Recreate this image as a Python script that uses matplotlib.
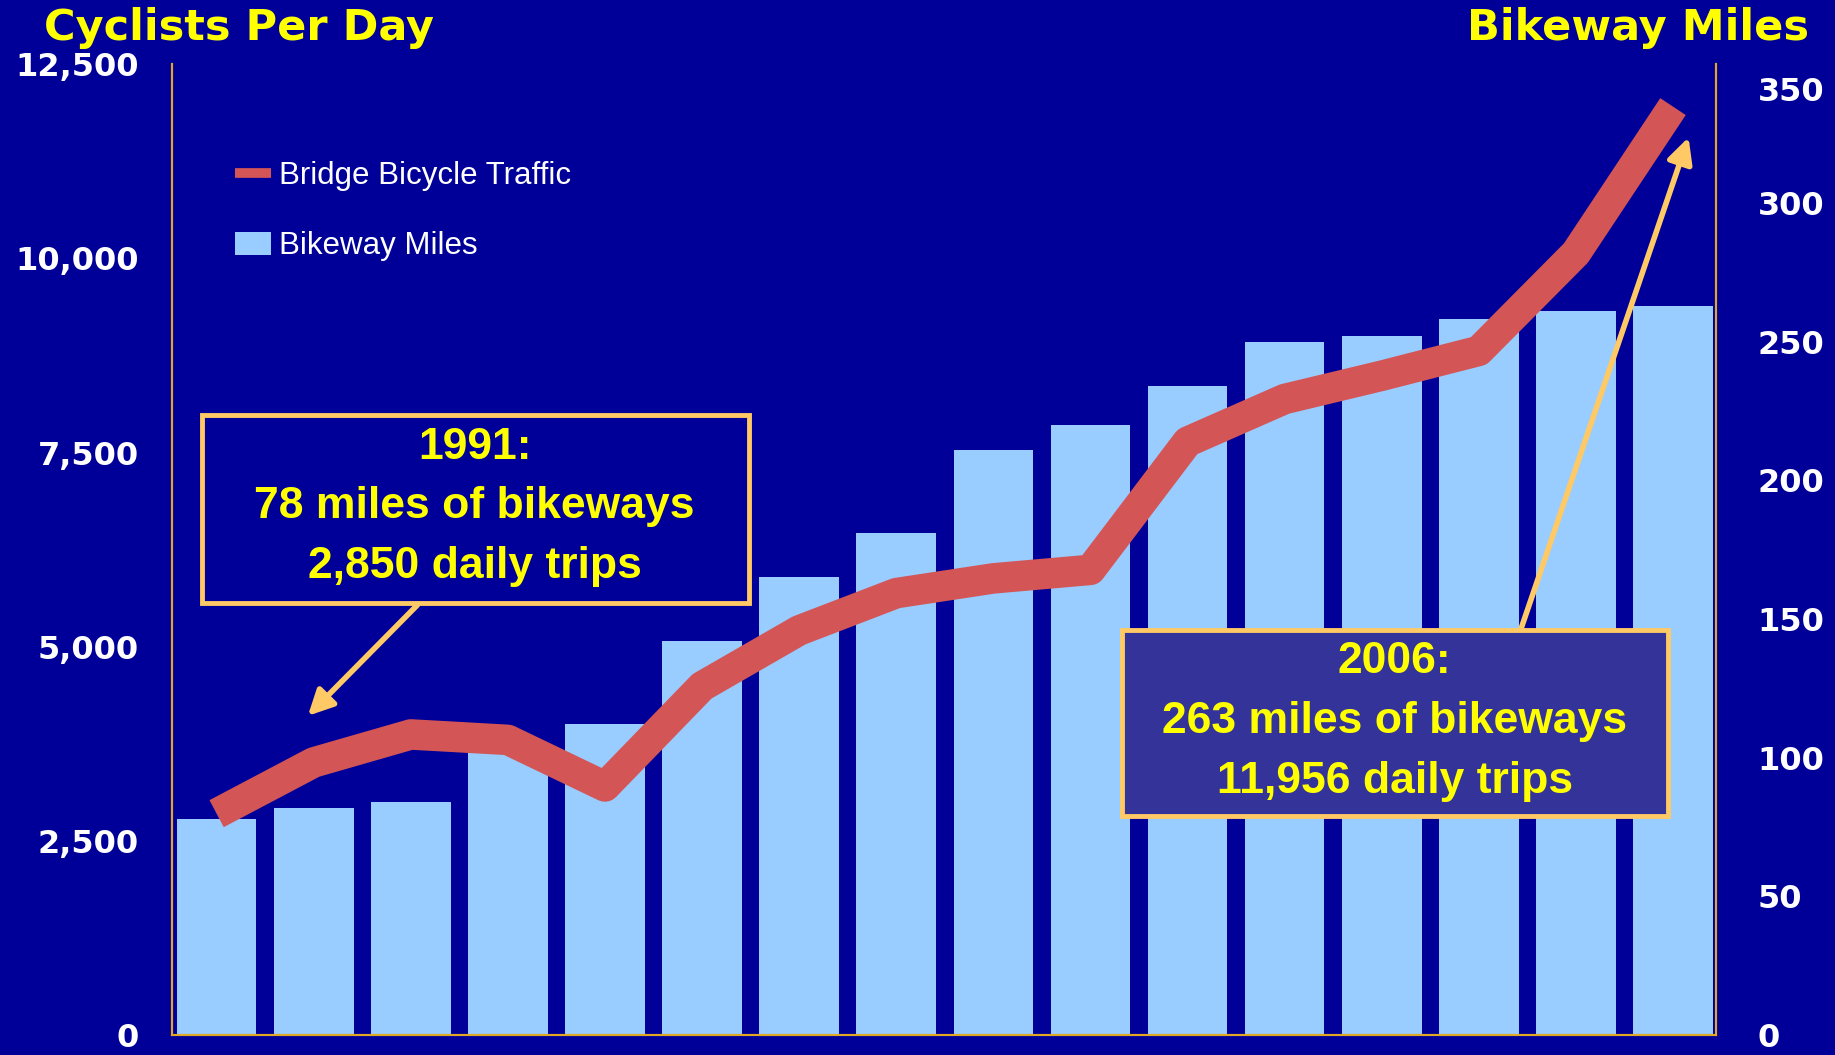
import matplotlib
matplotlib.use("Agg")
import matplotlib.pyplot as plt
from matplotlib.lines import Line2D
from matplotlib.patches import Patch, Rectangle
from matplotlib.transforms import ScaledTranslation

# data (1991 - 2006)
years = list(range(1991, 2007))
bikeway_miles = [78, 82, 84, 104, 112, 142, 165, 181, 211, 220, 234, 250, 252, 258, 261, 263]
bridge_trips = [2850, 3510, 3870, 3800, 3200, 4490, 5210, 5690, 5880, 5990, 7640, 8190, 8490, 8810, 10070, 11956]

left_ticks = [0, 2500, 5000, 7500, 10000, 12500]
left_labels = ['0', '2,500', '5,000', '7,500', '10,000', '12,500']
right_ticks = [0, 50, 100, 150, 200, 250, 300, 350]

# colours
bg = '#000099'
bar_color = '#99CCFF'
line_color = '#D45555'
box_edge = '#FFC966'
yellow = '#FFFF00'
spine_color = '#E0A823'

fig = plt.figure(figsize=(18.35, 10.55), dpi=100, facecolor=bg)
ax = fig.add_axes([0.0937, 0.019, 0.8413, 0.920])
ax2 = ax.twinx()

# bars on the right axis
x = list(range(len(years)))
ax2.bar(x, bikeway_miles, width=0.82, color=bar_color, zorder=1)
ax2.set_ylim(0, 350)
ax2.set_facecolor(bg)

# line on the left axis, drawn above the bars
ax.set_zorder(ax2.get_zorder() + 1)
ax.patch.set_visible(False)
ax.plot(x, bridge_trips, color=line_color, lw=22, solid_joinstyle='round',
        solid_capstyle='butt', zorder=3)
ax.set_ylim(0, 12500)
ax.set_xlim(-0.46, len(years) - 0.56)

# axes styling
for a in (ax, ax2):
    a.spines['top'].set_visible(False)
    for s in ('left', 'right', 'bottom'):
        a.spines[s].set_color(spine_color)
        a.spines[s].set_linewidth(1.5)
    a.set_xticks([])
    a.tick_params(length=0)

ax.set_yticks(left_ticks, left_labels)
ax.tick_params(axis='y', pad=24, labelsize=23, labelcolor='white')
for lbl in ax.get_yticklabels():
    lbl.set_fontweight('bold')
    lbl.set_family('DejaVu Sans')

ax2.set_yticks(right_ticks, [str(t) for t in right_ticks])
ax2.tick_params(axis='y', pad=30, labelsize=23, labelcolor='white')
for lbl in ax2.get_yticklabels():
    lbl.set_fontweight('bold')
    lbl.set_family('DejaVu Sans')

# axis titles
fig.text(0.024, 0.973, 'Cyclists Per Day', color=yellow, fontsize=31,
         fontweight='bold', family='DejaVu Sans', ha='left', va='center')
fig.text(0.986, 0.973, 'Bikeway Miles', color=yellow, fontsize=31,
         fontweight='bold', family='DejaVu Sans', ha='right', va='center')

# legend
handles = [Line2D([0], [0], color=line_color, lw=7, solid_capstyle='butt'),
           Patch(facecolor=bar_color, edgecolor='none')]
leg = ax.legend(handles, ['Bridge Bicycle Traffic', 'Bikeway Miles'],
                loc='upper left', bbox_to_anchor=(0.041, 0.900), frameon=False,
                prop={'family': 'Liberation Sans', 'size': 22.5},
                labelcolor='white', handlelength=1.15, handleheight=0.75,
                handletextpad=0.25, labelspacing=1.27, borderpad=0, borderaxespad=0)

# 1991 callout
ax.add_patch(Rectangle((0.0197, 0.445), 0.354, 0.194, transform=ax.transAxes,
                       facecolor=bg, edgecolor=box_edge, lw=3.5, zorder=5))
ax.text(0.196, 0.544, '1991:\n78 miles of bikeways\n2,850 daily trips',
        transform=ax.transAxes, ha='center', va='center', color=yellow,
        fontsize=32, fontweight='bold', family='Liberation Sans',
        linespacing=1.58, zorder=6)
ax.annotate('', xy=(0.94, 4110), xycoords='data',
            xytext=(0.159, 0.443), textcoords='axes fraction',
            arrowprops=dict(arrowstyle='-|>', color=box_edge, lw=4,
                            mutation_scale=38, shrinkA=0, shrinkB=0), zorder=4)

# 2006 callout
ax.add_patch(Rectangle((0.6156, 0.2256), 0.3534, 0.1918, transform=ax.transAxes,
                       facecolor='#333399', edgecolor=box_edge, lw=3.5, zorder=5))
ax.text(0.792, 0.323, '2006:\n263 miles of bikeways\n11,956 daily trips',
        transform=ax.transAxes, ha='center', va='center', color=yellow,
        fontsize=32, fontweight='bold', family='Liberation Sans',
        linespacing=1.58, zorder=6)
ax.annotate('', xy=(15.16, 11560), xycoords='data',
            xytext=(0.874, 0.419), textcoords='axes fraction',
            arrowprops=dict(arrowstyle='-|>', color=box_edge, lw=4,
                            mutation_scale=38, shrinkA=0, shrinkB=0), zorder=4)

# the top right label sits a little below its tick in the original
fig.canvas.draw()
top_lbl = ax2.get_yticklabels()[-1]
top_lbl.set_transform(top_lbl.get_transform() + ScaledTranslation(0, -0.25, fig.dpi_scale_trans))

fig.savefig('out.png', dpi=100, facecolor=bg)
